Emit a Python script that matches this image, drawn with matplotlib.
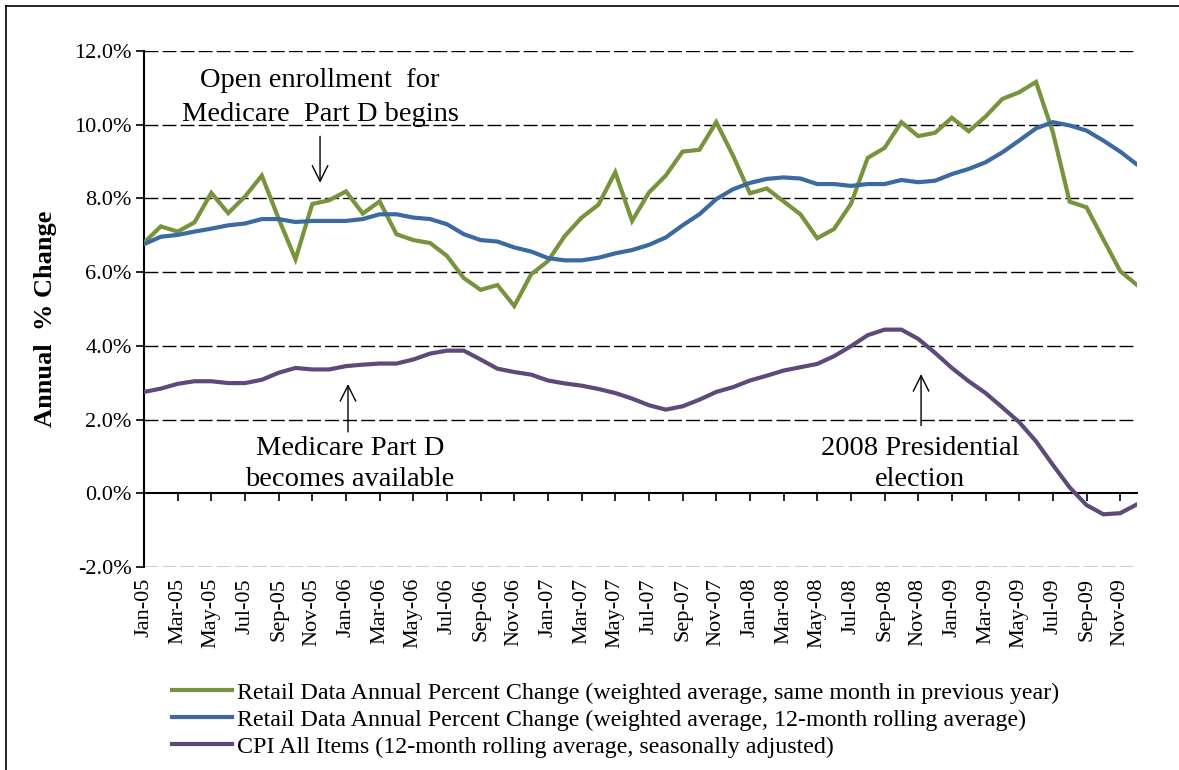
import matplotlib
matplotlib.use("Agg")
import matplotlib.pyplot as plt
from matplotlib.lines import Line2D

plt.rcParams['font.family'] = ['Liberation Serif', 'DejaVu Serif']

months = [f"{m}-{y:02d}" for y in range(5, 10) for m in
          ["Jan", "Feb", "Mar", "Apr", "May", "Jun", "Jul", "Aug", "Sep", "Oct", "Nov", "Dec"]]

retail_same_month = [
    6.80, 7.24, 7.10, 7.35, 8.15, 7.60, 8.05, 8.62, 7.45, 6.35,
    7.85, 7.95, 8.19, 7.59, 7.92, 7.03, 6.87, 6.79, 6.44, 5.84,
    5.52, 5.65, 5.08, 5.94, 6.30, 6.98, 7.48, 7.83, 8.71, 7.39,
    8.16, 8.62, 9.27, 9.32, 10.07, 9.16, 8.14, 8.27, 7.92, 7.57,
    6.92, 7.17, 7.85, 9.10, 9.37, 10.07, 9.69, 9.78, 10.19, 9.82,
    10.22, 10.70, 10.88, 11.16, 9.80, 7.91, 7.76, 6.89, 6.03, 5.65,
]
retail_rolling = [
    6.76, 6.96, 7.01, 7.10, 7.18, 7.27, 7.32, 7.44, 7.44, 7.36,
    7.39, 7.39, 7.39, 7.44, 7.57, 7.57, 7.48, 7.44, 7.30, 7.03,
    6.87, 6.83, 6.67, 6.56, 6.38, 6.32, 6.32, 6.39, 6.51, 6.60,
    6.74, 6.94, 7.27, 7.57, 7.98, 8.25, 8.42, 8.53, 8.57, 8.54,
    8.39, 8.39, 8.34, 8.39, 8.39, 8.50, 8.44, 8.48, 8.66, 8.80,
    8.98, 9.25, 9.57, 9.90, 10.07, 9.98, 9.84, 9.57, 9.27, 8.92,
]
cpi_all = [
    2.75, 2.84, 2.97, 3.04, 3.04, 2.99, 2.99, 3.08, 3.27, 3.40,
    3.36, 3.36, 3.45, 3.49, 3.52, 3.52, 3.63, 3.79, 3.87, 3.87,
    3.63, 3.38, 3.29, 3.22, 3.06, 2.98, 2.92, 2.83, 2.72, 2.57,
    2.39, 2.27, 2.36, 2.54, 2.75, 2.88, 3.06, 3.19, 3.33, 3.42,
    3.51, 3.72, 3.99, 4.29, 4.44, 4.44, 4.19, 3.81, 3.40, 3.04,
    2.72, 2.33, 1.93, 1.41, 0.77, 0.16, -0.32, -0.57, -0.54, -0.30,
]
y_ticks = [-2, 0, 2, 4, 6, 8, 10, 12]
series_labels = [
    "Retail Data Annual Percent Change (weighted average, same month in previous year)",
    "Retail Data Annual Percent Change (weighted average, 12-month rolling average)",
    "CPI All Items (12-month rolling average, seasonally adjusted)",
]
colors = ["#77933C", "#3B69A0", "#5F497A"]

W, H = 1179, 770
fig = plt.figure(figsize=(W / 100, H / 100), dpi=100)
ax = fig.add_axes([144 / W, 1 - 567 / H, (1137 - 144) / W, (567 - 51) / H])

x = list(range(len(months)))
for vals, c, lab in zip([retail_same_month, retail_rolling, cpi_all], colors, series_labels):
    ax.plot(x, vals, color=c, lw=3.0, label=lab, solid_joinstyle='miter', zorder=3)

ax.set_xlim(0, len(months) - 1)
ax.set_ylim(-2, 12)
ax.set_yticks(y_ticks)
ax.set_yticklabels([f"{v:.1f}%" for v in y_ticks], fontsize=16)
for v in y_ticks:
    if v != 0:
        ax.axhline(v, color='black', lw=1.0, dashes=(10, 3), zorder=1)

for s in ['top', 'right']:
    ax.spines[s].set_visible(False)
ax.spines['left'].set_linewidth(1.5)
ax.spines['bottom'].set_position(('data', 0))
ax.spines['bottom'].set_linewidth(1.5)
ax.spines['bottom'].set_zorder(2)
ax.tick_params(axis='y', direction='out', length=6, width=1.2, pad=3)
ax.set_xticks(x[::2])
ax.tick_params(axis='x', direction='out', length=6, width=1.2, labelbottom=False)

sec = ax.secondary_xaxis('bottom')
sec.set_xticks(x[::2])
sec.set_xticklabels(months[::2], rotation=90, fontsize=16)
sec.tick_params(length=0, pad=8)
sec.spines['bottom'].set_visible(False)

ax.set_ylabel("Annual  % Change", fontsize=19, fontweight='bold')
ax.yaxis.set_label_coords(-87 / (1137 - 144), (567 - 319) / (567 - 51))

arrow = dict(arrowstyle='->', lw=1.0, color='black', mutation_scale=28)
ax.annotate("", xy=(10.46, 8.35), xytext=(10.46, 9.76), arrowprops=arrow)
ax.text(10.46, 10.74, "Open enrollment  for\nMedicare  Part D begins", ha='center', va='center',
        fontsize=20.5, linespacing=1.5)
ax.annotate("", xy=(12.12, 3.04), xytext=(12.12, 1.59), arrowprops=arrow)
ax.text(12.24, 0.79, "Medicare Part D\nbecomes available", ha='center', va='center',
        fontsize=20.5, linespacing=1.32)
ax.annotate("", xy=(46.17, 3.31), xytext=(46.17, 1.76), arrowprops=arrow)
ax.text(46.1, 0.79, "2008 Presidential\nelection", ha='center', va='center',
        fontsize=20.5, linespacing=1.32)

leg = ax.legend(loc='upper left', bbox_to_anchor=(172 / W, 1 - 682 / H), bbox_transform=fig.transFigure,
                frameon=False, fontsize=17.25, handlelength=2.5, handletextpad=0.2, labelspacing=0.22,
                borderaxespad=0, borderpad=0)

# figure frame (left and top edges visible)
fig.add_artist(Line2D([6 / W, 6 / W], [0, 1 - 6 / H], transform=fig.transFigure, color='black', lw=1.2))
fig.add_artist(Line2D([6 / W, 1], [1 - 6 / H, 1 - 6 / H], transform=fig.transFigure, color='black', lw=1.2))

fig.savefig("out.png", dpi=100)
